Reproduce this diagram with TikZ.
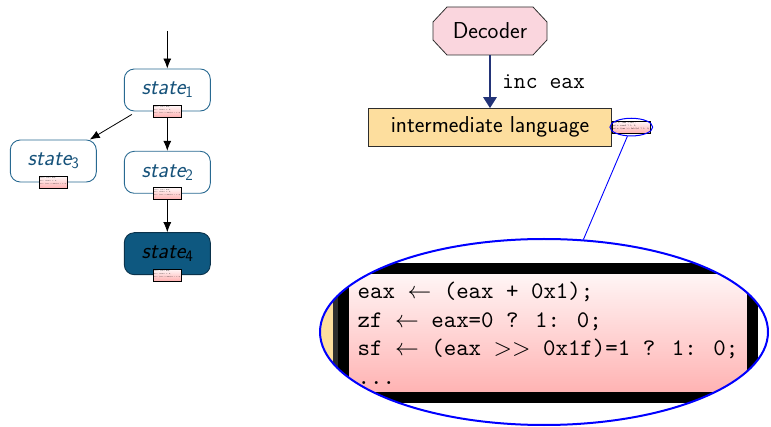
\documentclass[tikz,border=0pt]{standalone}
\usepackage{fontspec}
\usetikzlibrary{arrows.meta,shapes.geometric}

\definecolor{stateline}{RGB}{40,105,145}
\definecolor{statetext}{RGB}{22,82,122}
\definecolor{statefill}{RGB}{14,88,128}
\definecolor{stateedge}{RGB}{10,50,75}
\definecolor{decfill}{RGB}{250,214,222}
\definecolor{ilfill}{RGB}{253,222,158}
\definecolor{boxline}{RGB}{45,45,45}
\definecolor{navyarrow}{RGB}{35,52,120}
\definecolor{codetop}{RGB}{255,248,248}
\definecolor{codebot}{RGB}{255,176,176}

% intermediate-language listing shown in the code boxes
\newcommand{\iltext}{eax $\leftarrow$ (eax + 0x1);\\
zf $\leftarrow$ eax=0 ? 1: 0;\\
sf $\leftarrow$ (eax $>>$ 0x1f)=1 ? 1: 0;\\
...}
% state label with an upright subscript
\newcommand{\stname}[1]{{\itshape state}\raisebox{-3pt}{\fontsize{16}{16}\selectfont #1}}

\begin{document}
\begin{tikzpicture}[x=1pt,y=-1pt,
  bigtext/.style={font=\fontsize{23}{27}\selectfont\sffamily},
  statebox/.style={draw=stateline, line width=0.9pt, rounded corners=10pt,
    minimum width=86pt, minimum height=42pt, inner sep=0pt,
    text=statetext, bigtext},
  finalstate/.style={statebox, fill=statefill, draw=stateedge, text=black},
  codebox/.style={draw=black, line width=1pt, top color=codetop, bottom color=codebot,
    align=left, inner xsep=6pt, inner ysep=0pt, outer sep=0pt,
    minimum width=168pt, minimum height=54.2pt,
    font=\fontsize{10}{12}\selectfont\ttfamily, transform shape},
  statecode/.style={codebox, minimum height=74pt,
    font=\fontsize{10}{17}\selectfont\ttfamily, scale=0.165},
  arr/.style={-{Latex[length=10pt,width=8pt]}, line width=0.8pt, black},
  navyarr/.style={-{Triangle[length=11pt,width=13pt]}, line width=2.8pt, navyarrow},
  lensring/.style={ellipse, draw=blue, inner sep=0pt}
]
\useasboundingbox (0,0) rectangle (771,427);

% ---- state graph ----
\coordinate (entry) at (167.3,31);
\node[statebox] (s1) at (167.3,90) {\stname{1}};
\node[statebox] (s3) at (53.3,161) {\stname{3}};
\node[statebox] (s2) at (167.3,172.3) {\stname{2}};
\node[finalstate] (s4) at (167.3,253.7) {\stname{4}};

\node[statecode] (c1) at (s1.south) {\iltext};
\node[statecode] (c3) at (s3.south) {\iltext};
\node[statecode] (c2) at (s2.south) {\iltext};
\node[statecode] (c4) at (s4.south) {\iltext};

\draw[arr] (entry) -- (s1.north);
\draw[arr] ([xshift=8pt,yshift=-3pt]s1.south west) -- ([xshift=-7pt]s3.north east);
\draw[arr] (c1.south) -- (s2.north);
\draw[arr] (c2.south) -- (s4.north);

% ---- decoder and translation ----
\filldraw[fill=decfill, draw=boxline, line width=0.8pt]
  (447,7) -- (533,7) -- (547,22) -- (547,40) -- (533,55) -- (447,55)
  -- (433,40) -- (433,22) -- cycle;
\node[bigtext, minimum width=114pt, minimum height=48pt, inner sep=0pt] (dec) at (490,31) {Decoder};

\node[bigtext, draw=boxline, fill=ilfill, line width=1pt, outer sep=0pt,
  minimum width=243pt, minimum height=38pt, inner sep=0pt] (il) at (490,127.2) {intermediate language};

\draw[navyarr] (dec.south) -- node[right=7.4pt, font=\fontsize{23}{27}\selectfont\ttfamily, text=black] {inc eax} (il.north);

\node[codebox, scale=0.2262, anchor=west] (code) at ([xshift=0.5pt]il.east) {\iltext};

% ---- magnified view of the listing (x10.5 around (631.3,127.1)) ----
\begin{scope}
  \clip (544,332) ellipse [x radius=224pt, y radius=93pt];
  \fill[ilfill] (300,220) rectangle (338.2,440);
  \draw[boxline, line width=10.5pt] (338.2,220) -- (338.2,440);
  \node[codebox, scale=2.375, line width=10.5pt, anchor=west] (codezoom) at (343.45,333.05) {\iltext};
\end{scope}

\node[lensring, line width=1pt, minimum width=42.7pt, minimum height=17.7pt] (lens) at (631.3,127.1) {};
\node[lensring, line width=2pt, minimum width=448pt, minimum height=186pt] (zoom) at (544,332) {};
\draw[blue, line width=0.9pt] (lens) -- (zoom);
\end{tikzpicture}
\end{document}
